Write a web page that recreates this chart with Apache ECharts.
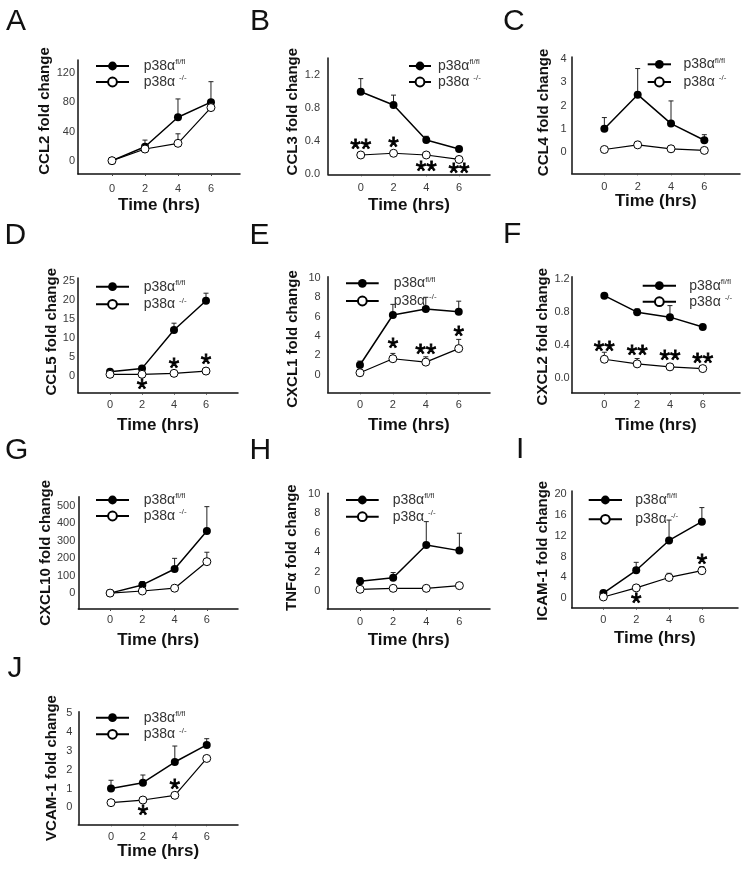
<!DOCTYPE html>
<html><head><meta charset="utf-8">
<script src="https://cdn.jsdelivr.net/npm/echarts@6/dist/echarts.min.js"></script>
<style>html,body{margin:0;padding:0;background:#fff}#c{width:742px;height:870px}</style>
</head><body><div id="c"></div>
<script>
// ---------- DATA ----------
const hours = [0, 2, 4, 6];
const xTicks = [0, 2, 4, 6];
const FLOX = 'p38α fl/fl';
const KO = 'p38α -/-';
const panelLetters = ['A', 'B', 'C', 'D', 'E', 'F', 'G', 'H', 'I', 'J'];
const yTitles = ['CCL2 fold change', 'CCL3 fold change', 'CCL4 fold change', 'CCL5 fold change',
  'CXCL1 fold change', 'CXCL2 fold change', 'CXCL10 fold change', 'TNFα fold change',
  'ICAM-1 fold change', 'VCAM-1 fold change'];

// A CCL2
const ccl2Flox = [0.5, 19.6, 59.8, 80.4];
const ccl2FloxSem = [0, 9, 25, 28];
const ccl2Ko = [0.5, 16.4, 24.2, 73];
const ccl2KoSem = [0, 4, 13, 0];
const ccl2Ticks = [0, 40, 80, 120];
const ccl2Stars = ['', '', '', ''];
const ccl2StarY = [null, null, null, null];
// B CCL3
const ccl3Flox = [1.0, 0.84, 0.416, 0.307];
const ccl3FloxSem = [0.16, 0.12, 0.045, 0];
const ccl3Ko = [0.234, 0.255, 0.234, 0.18];
const ccl3KoSem = [0, 0, 0, 0];
const ccl3Ticks = [0, 0.4, 0.8, 1.2];
const ccl3Stars = ['**', '*', '**', '**'];
const ccl3StarY = [0.36, 0.39, 0.09, 0.07];
// C CCL4
const ccl4Flox = [1.0, 2.47, 1.22, 0.5];
const ccl4FloxSem = [0.48, 1.13, 0.98, 0.24];
const ccl4Ko = [0.1, 0.3, 0.13, 0.06];
const ccl4KoSem = [0, 0.15, 0, 0];
const ccl4Ticks = [0, 1, 2, 3, 4];
const ccl4Stars = ['', '', '', ''];
const ccl4StarY = [null, null, null, null];
// D CCL5
const ccl5Flox = [1.1, 2.0, 12.1, 19.8];
const ccl5FloxSem = [0, 0.3, 1.8, 2.0];
const ccl5Ko = [0.44, 0.44, 0.7, 1.3];
const ccl5KoSem = [0, 0, 0, 0];
const ccl5Ticks = [0, 5, 10, 15, 20, 25];
const ccl5Stars = ['', '*', '*', '*'];
const ccl5StarY = [null, -2.2, 3.3, 4.2];
// E CXCL1
const cxcl1Flox = [1.0, 6.17, 6.8, 6.5];
const cxcl1FloxSem = [0.41, 1.1, 1.2, 1.1];
const cxcl1Ko = [0.2, 1.65, 1.3, 2.7];
const cxcl1KoSem = [0, 0.55, 0.55, 0.95];
const cxcl1Ticks = [0, 2, 4, 6, 8, 10];
const cxcl1Stars = ['', '*', '**', '*'];
const cxcl1StarY = [null, 3.24, 2.55, 4.45];
// F CXCL2
const cxcl2Flox = [1.0, 0.8, 0.74, 0.62];
const cxcl2FloxSem = [0, 0.04, 0.14, 0];
const cxcl2Ko = [0.23, 0.174, 0.138, 0.117];
const cxcl2KoSem = [0.085, 0.065, 0, 0];
const cxcl2Ticks = [0, 0.4, 0.8, 1.2];
const cxcl2Stars = ['**', '**', '**', '**'];
const cxcl2StarY = [0.39, 0.34, 0.27, 0.24];
// G CXCL10
const cxcl10Flox = [1, 48, 139, 357];
const cxcl10FloxSem = [0, 19, 61, 139];
const cxcl10Ko = [1, 13, 29, 181];
const cxcl10KoSem = [0, 0, 0, 54];
const cxcl10Ticks = [0, 100, 200, 300, 400, 500];
const cxcl10Stars = ['', '', '', ''];
const cxcl10StarY = [null, null, null, null];
// H TNFα
const tnfFlox = [1.0, 1.37, 4.74, 4.16];
const tnfFloxSem = [0.37, 0.53, 2.41, 1.79];
const tnfKo = [0.17, 0.27, 0.27, 0.55];
const tnfKoSem = [0, 0, 0, 0];
const tnfTicks = [0, 2, 4, 6, 8, 10];
const tnfStars = ['', '', '', ''];
const tnfStarY = [null, null, null, null];
// I ICAM-1
const icamFlox = [1.0, 5.37, 11.1, 14.7];
const icamFloxSem = [0, 1.53, 3.9, 2.7];
const icamKo = [0.26, 2.0, 4.0, 5.3];
const icamKoSem = [0, 0, 0.8, 0.8];
const icamTicks = [0, 4, 8, 12, 16, 20];
const icamStars = ['', '*', '', '*'];
const icamStarY = [null, -0.1, null, 7.35];
// J VCAM-1
const vcamFlox = [1.0, 1.31, 2.41, 3.32];
const vcamFloxSem = [0.44, 0.41, 0.85, 0.33];
const vcamKo = [0.25, 0.39, 0.64, 2.6];
const vcamKoSem = [0, 0, 0, 0];
const vcamTicks = [0, 1, 2, 3, 4, 5];
const vcamStars = ['', '*', '*', ''];
const vcamStarY = [null, -0.18, 1.22, null];

const floxSets = [ccl2Flox, ccl3Flox, ccl4Flox, ccl5Flox, cxcl1Flox, cxcl2Flox, cxcl10Flox, tnfFlox, icamFlox, vcamFlox];
const floxSems = [ccl2FloxSem, ccl3FloxSem, ccl4FloxSem, ccl5FloxSem, cxcl1FloxSem, cxcl2FloxSem, cxcl10FloxSem, tnfFloxSem, icamFloxSem, vcamFloxSem];
const koSets = [ccl2Ko, ccl3Ko, ccl4Ko, ccl5Ko, cxcl1Ko, cxcl2Ko, cxcl10Ko, tnfKo, icamKo, vcamKo];
const koSems = [ccl2KoSem, ccl3KoSem, ccl4KoSem, ccl5KoSem, cxcl1KoSem, cxcl2KoSem, cxcl10KoSem, tnfKoSem, icamKoSem, vcamKoSem];
const tickSets = [ccl2Ticks, ccl3Ticks, ccl4Ticks, ccl5Ticks, cxcl1Ticks, cxcl2Ticks, cxcl10Ticks, tnfTicks, icamTicks, vcamTicks];
const starSets = [ccl2Stars, ccl3Stars, ccl4Stars, ccl5Stars, cxcl1Stars, cxcl2Stars, cxcl10Stars, tnfStars, icamStars, vcamStars];
const starYSets = [ccl2StarY, ccl3StarY, ccl4StarY, ccl5StarY, cxcl1StarY, cxcl2StarY, cxcl10StarY, tnfStarY, icamStarY, vcamStarY];
const decimals = [0, 1, 0, 0, 0, 1, 0, 0, 0, 0];

// ---------- LAYOUT (pixels / axis extents) ----------
const layout = [
  {L:78, T:60, R:240, B:174, xmin:-2.06, xmax:7.76, ymin:-17.7, ymax:138, yGap:22.3, yOff:-6, xGap:31, yLm:3, xLm:9, lx:6, ly:21.7, legL:90, legT:53, legW:33, legPad:9.7, legGap:0},
  {L:328, T:58, R:490, B:174.3, xmin:-2.0, xmax:7.89, ymin:0, ymax:1.41, yGap:28, yOff:-4.5, xGap:31, yLm:8, xLm:8, lx:250, ly:21.7, legL:403, legT:53, legW:22, legPad:2, legGap:0},
  {L:571.7, T:57, R:740, B:173.3, xmin:-1.96, xmax:8.14, ymin:-0.93, ymax:4.1, yGap:27.7, yOff:-2.7, xGap:26, yLm:5, xLm:8, lx:503, ly:21.7, legL:641.7, legT:51.3, legW:23.3, legPad:7.4, legGap:1.7},
  {L:78, T:278, R:238, B:392.7, xmin:-2.0, xmax:8.0, ymin:-4.4, ymax:25.8, yGap:24.7, yOff:-3.6, xGap:33, yLm:3, xLm:7, lx:4.5, ly:235.5, legL:90, legT:273.7, legW:33, legPad:9.7, legGap:1.6},
  {L:327.7, T:276.7, R:490, B:392.3, xmin:-1.96, xmax:7.9, ymin:-1.82, ymax:10.13, yGap:34.4, yOff:4.5, xGap:33, yLm:7, xLm:7, lx:249.5, ly:236, legL:340, legT:270.3, legW:32.7, legPad:10, legGap:1.7},
  {L:571.7, T:276.7, R:740, B:392.7, xmin:-1.99, xmax:8.27, ymin:-0.175, ymax:1.23, yGap:26.7, yOff:2, xGap:33, yLm:2, xLm:7, lx:503, ly:235, legL:636.7, legT:272.7, legW:33.3, legPad:8.3, legGap:0},
  {L:78.3, T:496.7, R:238, B:609, xmin:-1.97, xmax:7.93, ymin:-90, ymax:553, yGap:26.6, yOff:0, xGap:31, yLm:3, xLm:5.5, lx:5, ly:451, legL:90, legT:487, legW:33, legPad:9.7, legGap:0},
  {L:327.3, T:493.3, R:490, B:609, xmin:-1.98, xmax:7.85, ymin:-1.86, ymax:10.07, yGap:35, yOff:-3.5, xGap:31, yLm:7, xLm:7, lx:249.5, ly:451, legL:340, legT:487, legW:32.7, legPad:9, legGap:0.7},
  {L:571.7, T:491, R:738, B:607.7, xmin:-1.93, xmax:8.2, ymin:-1.8, ymax:20.58, yGap:26.7, yOff:1.5, xGap:31, yLm:5, xLm:7, lx:516, ly:450, legL:582.7, legT:487, legW:33.3, legPad:8.3, legGap:3.3},
  {L:78.3, T:711.7, R:238, B:824.3, xmin:-2.05, xmax:7.96, ymin:-0.9, ymax:5.085, yGap:26.6, yOff:0, xGap:24, yLm:6, xLm:7, lx:7.5, ly:668.5, legL:90, legT:704.7, legW:33, legPad:9.7, legGap:0.6}
];

const FONT = '"Liberation Sans", Arial, Helvetica, sans-serif';
const grids = [], xAxes = [], yAxes = [], legends = [], series = [], graphics = [];

layout.forEach((p, i) => {
  grids.push({left: p.L, top: p.T, width: p.R - p.L, height: p.B - p.T, containLabel: false});
  xAxes.push({
    type: 'value', gridIndex: i, min: p.xmin, max: p.xmax,
    axisLine: {show: true, onZero: false, lineStyle: {color: '#111', width: 1.5}},
    axisTick: {show: true, length: 2, inside: false, customValues: xTicks, lineStyle: {color: '#444', width: 1}},
    axisLabel: {customValues: xTicks, fontSize: 11, color: '#3a3a3a', margin: p.xLm, fontFamily: FONT},
    splitLine: {show: false},
    name: 'Time (hrs)', nameLocation: 'middle', nameGap: p.xGap,
    nameTextStyle: {fontSize: 17, fontWeight: 'bold', color: '#111', fontFamily: FONT, verticalAlign: 'middle'}
  });
  const pad = p.yOff < 0 ? [0, 0, 0, -2 * p.yOff] : [0, 2 * p.yOff, 0, 0];
  yAxes.push({
    type: 'value', gridIndex: i, min: p.ymin, max: p.ymax,
    axisLine: {show: true, onZero: false, lineStyle: {color: '#111', width: 1.5}},
    axisTick: {show: false},
    axisLabel: {customValues: tickSets[i], fontSize: 11, color: '#3a3a3a', margin: p.yLm, fontFamily: FONT,
      formatter: v => Number(v).toFixed(decimals[i])},
    splitLine: {show: false},
    name: yTitles[i], nameLocation: 'middle', nameGap: p.yGap, nameRotate: 90,
    nameTextStyle: {fontSize: 15, fontWeight: 'bold', color: '#111', fontFamily: FONT, verticalAlign: 'middle', padding: pad}
  });
  legends.push({
    left: p.legL, top: p.legT, orient: 'vertical', itemWidth: p.legW, itemHeight: 11, itemGap: p.legGap,
    selectedMode: false, data: [FLOX, KO],
    formatter: n => n === FLOX ? '{n|p38α}{s|fl/fl}' : '{n|p38α }{s|-/-}',
    textStyle: {fontSize: 14, color: '#333', fontFamily: FONT, lineHeight: 16, padding: [0, 0, 0, p.legPad],
      rich: {n: {fontSize: 14, color: '#333', fontFamily: FONT, lineHeight: 16},
             s: {fontSize: 8, color: '#333', fontFamily: FONT, lineHeight: 9, verticalAlign: 'top'}}}
  });
  // error bars
  const errData = [];
  hours.forEach((h, k) => {
    if (floxSems[i][k] > 0) errData.push([h, floxSets[i][k], floxSems[i][k]]);
    if (koSems[i][k] > 0) errData.push([h, koSets[i][k], koSems[i][k]]);
  });
  series.push({
    type: 'custom', xAxisIndex: i, yAxisIndex: i, z: 1, silent: true,
    encode: {x: 0, y: 1},
    data: errData,
    renderItem: (params, api) => {
      const x = api.value(0), m = api.value(1), s = api.value(2);
      const p0 = api.coord([x, m]);
      const p1 = api.coord([x, m + s]);
      const hw = 2.5;
      return {type: 'group', children: [
        {type: 'line', shape: {x1: p0[0], y1: p0[1], x2: p1[0], y2: p1[1]}, style: {stroke: '#222', lineWidth: 1}},
        {type: 'line', shape: {x1: p1[0] - hw, y1: p1[1], x2: p1[0] + hw, y2: p1[1]}, style: {stroke: '#222', lineWidth: 1}}
      ]};
    }
  });
  series.push({
    type: 'line', name: FLOX, xAxisIndex: i, yAxisIndex: i, z: 3,
    data: hours.map((h, k) => [h, floxSets[i][k]]),
    symbol: 'circle', symbolSize: 8, showSymbol: true,
    itemStyle: {color: '#000'},
    lineStyle: {color: '#000', width: 1.5},
    emphasis: {disabled: true}
  });
  series.push({
    type: 'line', name: KO, xAxisIndex: i, yAxisIndex: i, z: 3,
    data: hours.map((h, k) => [h, koSets[i][k]]),
    symbol: 'circle', symbolSize: 8, showSymbol: true,
    itemStyle: {color: '#fff', borderColor: '#000', borderWidth: 1},
    lineStyle: {color: '#000', width: 1.2},
    emphasis: {disabled: true}
  });
  const starData = [];
  hours.forEach((h, k) => { if (starSets[i][k]) starData.push([h, starYSets[i][k], starSets[i][k]]); });
  if (starData.length) {
    series.push({
      type: 'scatter', xAxisIndex: i, yAxisIndex: i, z: 4, silent: true,
      data: starData, symbolSize: 1, itemStyle: {color: '#fff', opacity: 1},
      label: {show: true, position: 'inside', formatter: d => d.value[2], fontSize: 27, fontWeight: 'normal',
        color: '#000', textBorderColor: '#000', textBorderWidth: 0.8, opacity: 1,
        fontFamily: FONT, offset: [0, 6]}
    });
  }
  graphics.push({type: 'text', x: p.lx, y: p.ly,
    style: {text: panelLetters[i], font: '30px ' + FONT, fill: '#111', verticalAlign: 'middle', align: 'left'}});
});

const chart = echarts.init(document.getElementById('c'), null, {renderer: 'canvas'});
chart.setOption({
  animation: false,
  backgroundColor: '#fff',
  textStyle: {fontFamily: FONT},
  grid: grids, xAxis: xAxes, yAxis: yAxes, legend: legends, series: series,
  graphic: graphics
});
</script></body></html>
